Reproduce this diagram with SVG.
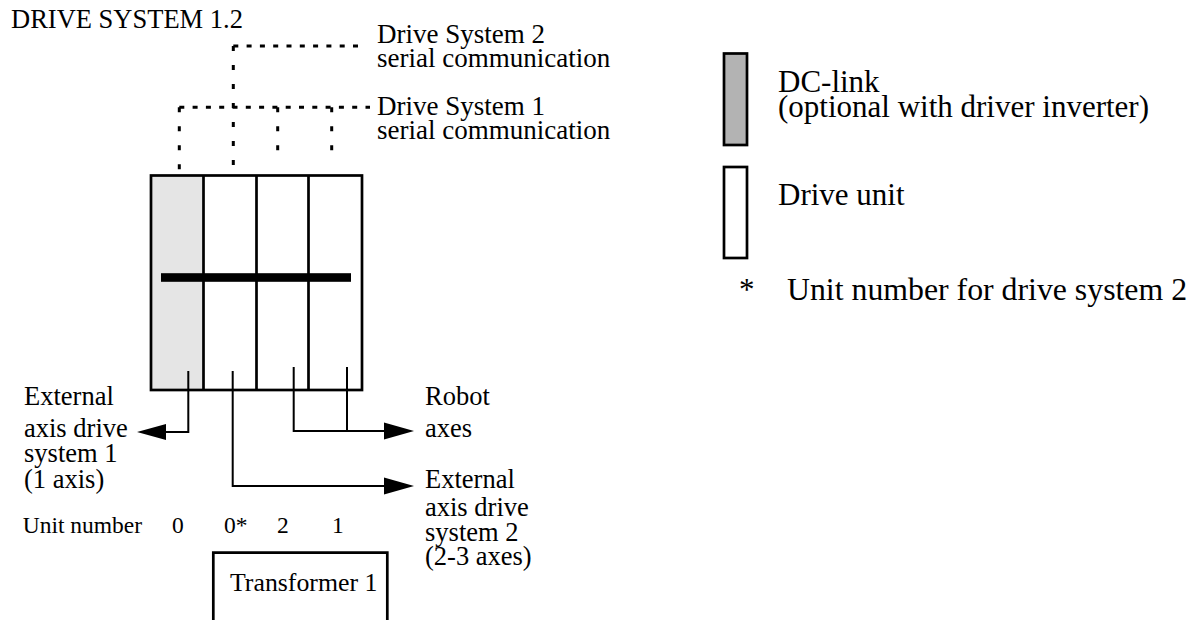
<svg xmlns="http://www.w3.org/2000/svg" width="1196" height="620" viewBox="0 0 1196 620">
<defs>
<style>
text{font-family:"Liberation Serif","Times New Roman",serif;fill:#000}
.t26{font-size:26.5px}
.t27{font-size:27px}
.t31{font-size:31px}
.t23{font-size:23.5px}
.box{fill:none;stroke:#000;stroke-width:2.7}
.wire{fill:none;stroke:#000;stroke-width:2}
.dh{fill:none;stroke:#000;stroke-width:3;stroke-dasharray:5 8.3}
.dv{fill:none;stroke:#000;stroke-width:3;stroke-dasharray:5 14}
.ah{fill:#000}
</style>
</defs>
<rect width="1196" height="620" fill="#fff"/>
<text class="t26" x="11" y="28.3">DRIVE SYSTEM 1.2</text>

<g id="comm">
<path class="dh" d="M233.3 46 H363"/>
<path class="dv" d="M233.3 46 V170"/>
<path class="dh" d="M179.3 107.3 H370"/>
<path class="dv" d="M179.3 107.3 V175"/>
<path class="dv" d="M277.7 107.3 V164"/>
<path class="dv" d="M331.7 107.3 V164"/>
</g>

<g id="ds2-label">
<text class="t27" x="377" y="43.3">Drive System 2</text>
<text class="t27" x="377" y="66.7">serial communication</text>
</g>
<g id="ds1-label">
<text class="t27" x="377" y="115">Drive System 1</text>
<text class="t27" x="377" y="138.5">serial communication</text>
</g>

<g id="cabinet">
<rect x="151" y="175.5" width="52.5" height="214.5" fill="#e5e5e5"/>
<rect class="box" x="151" y="175.5" width="211" height="214.5"/>
<path class="box" d="M203.5 175.5 V390 M256.5 175.5 V390 M308.5 175.5 V390"/>
<rect x="161" y="273.2" width="190" height="8.6" fill="#000"/>
</g>

<g id="connectors">
<path class="wire" d="M188.3 371 V432 H165"/>
<polygon class="ah" points="137,432 166,424 166,440"/>
<path class="wire" d="M232.7 371 V486 H385"/>
<polygon class="ah" points="414,486 384,477.5 384,494.5"/>
<path class="wire" d="M293.7 367 V431 H385 M347 367 V431"/>
<polygon class="ah" points="414,431 384,422.5 384,439.5"/>
</g>

<g id="ext1-label">
<text class="t26" x="24" y="405">External</text>
<text class="t26" x="24" y="437">axis drive</text>
<text class="t26" x="24" y="462">system 1</text>
<text class="t26" x="24" y="488">(1 axis)</text>
</g>
<g id="robot-label">
<text class="t26" x="425" y="405">Robot</text>
<text class="t26" x="425" y="437">axes</text>
</g>
<g id="ext2-label">
<text class="t26" x="425" y="488">External</text>
<text class="t26" x="425" y="516">axis drive</text>
<text class="t26" x="425" y="541">system 2</text>
<text class="t26" x="425" y="565">(2-3 axes)</text>
</g>

<g id="unit-numbers">
<text class="t23" x="22.7" y="533">Unit number</text>
<text class="t23" x="172" y="533">0</text>
<text class="t23" x="224" y="533">0*</text>
<text class="t23" x="277" y="533">2</text>
<text class="t23" x="332" y="533">1</text>
</g>

<g id="transformer">
<path class="box" d="M213.3 625 V552.7 H387.3 V625"/>
<text x="230" y="590.7" style="font-size:25.8px">Transformer 1</text>
</g>

<g id="legend-dclink">
<rect x="724" y="53.5" width="23" height="91.5" fill="#b3b3b3" stroke="#000" stroke-width="2.7"/>
<text class="t31" x="778" y="92">DC-link</text>
<text class="t31" x="778" y="117">(optional with driver inverter)</text>
</g>
<g id="legend-drive">
<rect x="724" y="167" width="23" height="91" fill="#fff" stroke="#000" stroke-width="2.7"/>
<text class="t31" x="778" y="205">Drive unit</text>
</g>
<g id="legend-star">
<text class="t31" x="739" y="300">*</text>
<text x="787" y="300" style="font-size:31.8px">Unit number for drive system 2</text>
</g>
</svg>
